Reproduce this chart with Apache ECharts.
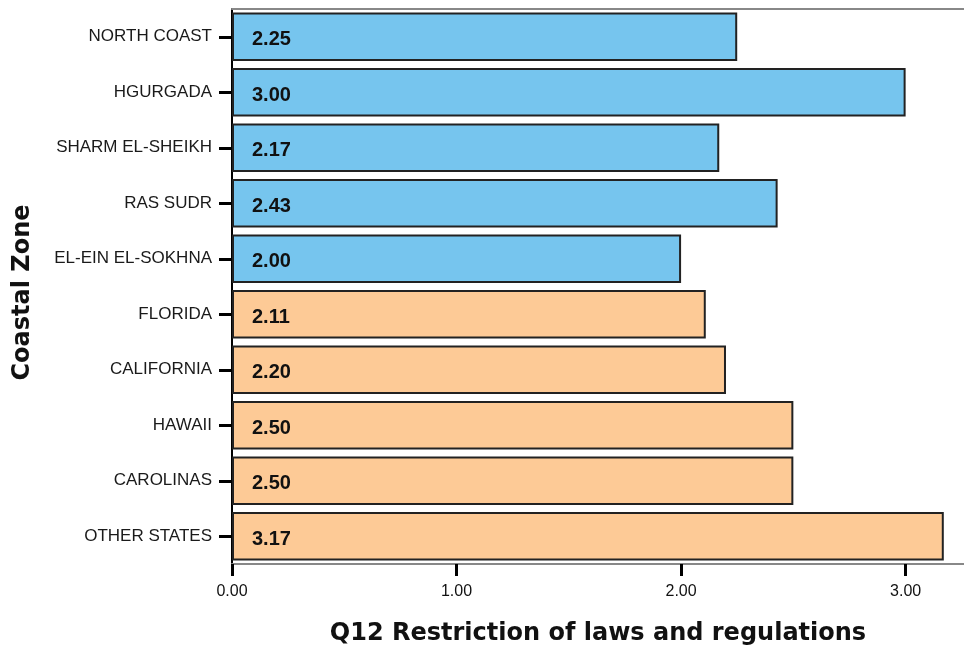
<!DOCTYPE html>
<html>
<head>
<meta charset="utf-8">
<script src="https://cdn.jsdelivr.net/npm/echarts@6/dist/echarts.min.js"></script>
<style>html,body{margin:0;padding:0;background:#fff;}#c{width:964px;height:656px;}</style>
</head>
<body>
<div id="c"></div>
<script>
var categories = ['NORTH COAST', 'HGURGADA', 'SHARM EL-SHEIKH', 'RAS SUDR', 'EL-EIN EL-SOKHNA', 'FLORIDA', 'CALIFORNIA', 'HAWAII', 'CAROLINAS', 'OTHER STATES'];
var values = [2.25, 3.00, 2.17, 2.43, 2.00, 2.11, 2.20, 2.50, 2.50, 3.17];
var groups = ['Egypt', 'Egypt', 'Egypt', 'Egypt', 'Egypt', 'USA', 'USA', 'USA', 'USA', 'USA'];
var xTicks = [0, 1, 2, 3];

var groupColors = { Egypt: '#76C5EE', USA: '#FDCA96' };

var chart = echarts.init(document.getElementById('c'), null, { renderer: 'canvas' });
chart.setOption({
  backgroundColor: '#ffffff',
  animation: false,
  grid: { left: 232, right: 0, top: 9, bottom: 92, containLabel: false },
  xAxis: [{
    type: 'value', min: 0, max: 3.26, interval: 1,
    position: 'bottom',
    name: 'Q12 Restriction of laws and regulations',
    nameLocation: 'middle', nameGap: 58,
    nameTextStyle: { fontFamily: 'DejaVu Sans', fontWeight: 'bold', fontSize: 24, color: '#111' },
    axisLine: { show: true, onZero: false, lineStyle: { color: '#888', width: 2 } },
    axisTick: { show: true, length: 12, customValues: xTicks, lineStyle: { color: '#000', width: 3 } },
    axisLabel: { customValues: xTicks, margin: 20, fontFamily: 'Arial, Liberation Sans', fontSize: 16, color: '#111',
      formatter: function (v) { return v.toFixed(2); } },
    splitLine: { show: false }
  }, {
    type: 'value', min: 0, max: 3.26, position: 'top',
    axisLine: { show: true, onZero: false, lineStyle: { color: '#888', width: 2 } },
    axisTick: { show: false }, axisLabel: { show: false }, splitLine: { show: false }
  }],
  yAxis: {
    type: 'category', data: categories, inverse: true,
    name: 'Coastal Zone', nameLocation: 'middle', nameGap: 197, nameRotate: 90,
    nameTextStyle: { fontFamily: 'DejaVu Sans', fontWeight: 'bold', fontSize: 24, color: '#111', padding: [0, 12, 0, 0] },
    axisLine: { show: true, lineStyle: { color: '#000', width: 2 } },
    axisTick: { show: true, alignWithLabel: true, length: 13, lineStyle: { color: '#000', width: 3 } },
    axisLabel: { margin: 20, fontFamily: 'Arial, Liberation Sans', fontSize: 17, color: '#1a1a1a', padding: [6, 0, 0, 0] }
  },
  series: [{
    type: 'bar', data: values, xAxisIndex: 0,
    barCategoryGap: '13%',
    itemStyle: {
      borderColor: '#222', borderWidth: 2,
      color: function (p) { return groupColors[groups[p.dataIndex]]; }
    },
    label: {
      show: true, position: 'insideLeft', distance: 20, offset: [0, 3],
      fontFamily: 'Arial, Liberation Sans', fontWeight: 'bold', fontSize: 20, color: '#111',
      formatter: function (p) { return p.value.toFixed(2); }
    }
  }]
});
</script>
</body>
</html>
